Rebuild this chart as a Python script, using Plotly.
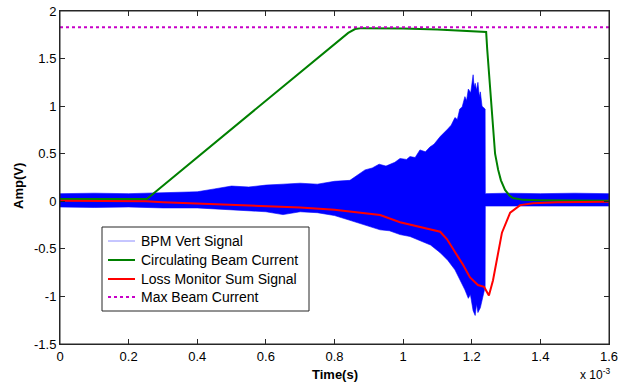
import plotly.graph_objects as go

# ---- data (time in ms; axis exponent shown as "x 10^-3") ----
bpm_t_upper = [0.0, 0.1, 0.2, 0.3, 0.4, 0.45, 0.5, 0.55, 0.6, 0.65, 0.7, 0.75, 0.8, 0.845,
               0.87, 0.889, 0.91, 0.93, 0.95, 0.976, 0.991, 1.01, 1.02, 1.035, 1.049, 1.065,
               1.078, 1.09, 1.108, 1.12, 1.13, 1.14, 1.151, 1.158, 1.165, 1.172, 1.18, 1.185,
               1.19, 1.197, 1.2, 1.204, 1.207, 1.21, 1.214, 1.218, 1.222, 1.225, 1.23, 1.233,
               1.239, 1.2395, 1.3, 1.4, 1.5, 1.6]
bpm_upper = [0.08, 0.085, 0.08, 0.09, 0.10, 0.13, 0.16, 0.15, 0.17, 0.18, 0.19, 0.18, 0.21, 0.22,
             0.28, 0.33, 0.35, 0.39, 0.37, 0.41, 0.45, 0.44, 0.47, 0.46, 0.54, 0.52,
             0.57, 0.60, 0.68, 0.72, 0.76, 0.80, 0.88, 0.86, 0.97, 0.99, 1.10, 1.06,
             1.18, 1.14, 1.22, 1.33, 1.20, 1.24, 1.17, 1.25, 1.10, 1.15, 1.00, 0.99,
             0.97, 0.08, 0.085, 0.08, 0.085, 0.08]
bpm_t_lower = [0.0, 0.1, 0.2, 0.3, 0.4, 0.5, 0.6, 0.65, 0.7, 0.75, 0.8, 0.845, 0.9, 0.933,
               0.96, 0.991, 1.02, 1.049, 1.08, 1.108, 1.13, 1.151, 1.165, 1.18, 1.19, 1.196,
               1.204, 1.21, 1.214, 1.218, 1.225, 1.233, 1.239, 1.2395, 1.3, 1.4, 1.5, 1.6]
bpm_lower = [-0.06, -0.065, -0.06, -0.07, -0.07, -0.09, -0.11, -0.14, -0.11, -0.12, -0.15, -0.20,
             -0.26, -0.30, -0.31, -0.35, -0.37, -0.41, -0.46, -0.54, -0.62, -0.72, -0.82, -0.93,
             -1.02, -0.98, -1.15, -1.20, -1.08, -1.17, -1.12, -1.0, -0.9, -0.05, -0.05, -0.05,
             -0.05, -0.05]

beam_t = [0.0, 0.253, 0.84, 0.86, 0.88, 0.95, 1.0, 1.1, 1.2, 1.242, 1.245, 1.25, 1.255, 1.262,
          1.268, 1.277, 1.285, 1.297, 1.31, 1.32, 1.35, 1.4, 1.6]
beam_v = [0.025, 0.025, 1.77, 1.81, 1.82, 1.82, 1.815, 1.805, 1.79, 1.78, 1.6, 1.35, 1.1, 0.75,
          0.5, 0.33, 0.22, 0.12, 0.06, 0.035, 0.015, 0.01, 0.005]

loss_t = [0.0, 0.25, 0.3, 0.4, 0.5, 0.6, 0.7, 0.8, 0.85, 0.933, 0.991, 1.049, 1.108, 1.128,
          1.151, 1.175, 1.195, 1.218, 1.236, 1.247, 1.25, 1.262, 1.274, 1.288, 1.312, 1.341,
          1.379, 1.45, 1.6]
loss_v = [0.005, 0.0, -0.01, -0.025, -0.04, -0.05, -0.065, -0.09, -0.11, -0.145, -0.22, -0.27,
          -0.32, -0.40, -0.53, -0.67, -0.80, -0.88, -0.90, -0.97, -0.99, -0.83, -0.58, -0.33,
          -0.12, -0.04, -0.02, -0.01, -0.005]

max_beam_current = 1.83
x_range = [0.0, 1.6]

legend_names = ["BPM Vert Signal", "Circulating Beam Current",
                "Loss Monitor Sum Signal", "Max Beam Current"]

xtick_vals = [0, 0.2, 0.4, 0.6, 0.8, 1.0, 1.2, 1.4, 1.6]
xtick_text = ["0", "0.2", "0.4", "0.6", "0.8", "1", "1.2", "1.4", "1.6"]
ytick_vals = [-1.5, -1, -0.5, 0, 0.5, 1, 1.5, 2]
ytick_text = ["-1.5", "-1", "-0.5", "0", "0.5", "1", "1.5", "2"]

FONT = "Liberation Sans, Arial, Helvetica, sans-serif"
W, H = 629, 382
ML, MR, MT, MB = 60, 20, 11, 38
PW, PH = W - ML - MR, H - MT - MB


def px_x(sx):
    return (sx - ML) / PW


def px_y(sy):
    return (MT + PH - sy) / PH


styles = [dict(color="rgb(140,140,255)", width=1),
          dict(color="rgb(0,128,0)", width=2),
          dict(color="rgb(255,0,0)", width=2),
          dict(color="rgb(200,0,200)", width=2, dash="dot")]

fig = go.Figure()

# BPM signal drawn as its envelope band
fig.add_trace(go.Scatter(
    x=bpm_t_upper + bpm_t_lower[::-1],
    y=bpm_upper + bpm_lower[::-1],
    fill="toself", fillcolor="rgb(0,0,255)",
    line=dict(color="rgb(0,0,255)", width=0.6),
    mode="lines", name=legend_names[0], showlegend=False, hoverinfo="skip"))
fig.add_trace(go.Scatter(x=beam_t, y=beam_v, mode="lines", name=legend_names[1],
                         line=styles[1], showlegend=False))
fig.add_trace(go.Scatter(x=loss_t, y=loss_v, mode="lines", name=legend_names[2],
                         line=styles[2], showlegend=False))
fig.add_trace(go.Scatter(x=x_range, y=[max_beam_current, max_beam_current], mode="lines",
                         name=legend_names[3], line=styles[3], showlegend=False))

axis_common = dict(showgrid=False, zeroline=False, showline=True, linecolor="#262626",
                   linewidth=1, mirror="ticks", ticks="inside", ticklen=5, automargin=False,
                   ticklabeloverflow="allow",
                   tickcolor="#262626", tickfont=dict(family=FONT, size=13, color="black"))

fig.update_xaxes(range=x_range, tickvals=xtick_vals, ticktext=xtick_text, **axis_common)
fig.update_yaxes(range=[-1.5, 2], tickvals=ytick_vals, ticktext=ytick_text, **axis_common)

# plot frame
fig.add_shape(type="rect", xref="paper", yref="paper", x0=0, x1=1, y0=0, y1=1,
              line=dict(color="#262626", width=1), layer="above")

# axis titles and exponent label
fig.add_annotation(text="<b>Time(s)</b>", xref="paper", yref="paper", x=0.5,
                   y=px_y(374), xanchor="center", yanchor="middle",
                   showarrow=False, font=dict(family=FONT, size=13, color="black"))
fig.add_annotation(text="<b>Amp(V)</b>", xref="paper", yref="paper", x=px_x(18),
                   y=px_y(186), xanchor="center", yanchor="middle", textangle=-90,
                   showarrow=False, font=dict(family=FONT, size=13, color="black"))
fig.add_annotation(text="x 10<sup>-3</sup>", xref="paper", yref="paper",
                   x=px_x(612), y=px_y(364), xanchor="right", yanchor="top", showarrow=False,
                   font=dict(family=FONT, size=12, color="black"))

# legend box (MATLAB style)
fig.add_shape(type="rect", xref="paper", yref="paper",
              x0=px_x(102), x1=px_x(309), y0=px_y(311), y1=px_y(227),
              line=dict(color="#262626", width=1), fillcolor="white", layer="above")
legend_rows = [241, 260, 279, 297]
for name, style, row in zip(legend_names, styles, legend_rows):
    fig.add_shape(type="line", xref="paper", yref="paper",
                  x0=px_x(108), x1=px_x(135), y0=px_y(row), y1=px_y(row),
                  line=style, layer="above")
    fig.add_annotation(text=name, xref="paper", yref="paper", x=px_x(139), y=px_y(row),
                       xanchor="left", yanchor="middle", showarrow=False,
                       font=dict(family=FONT, size=14, color="black"))

fig.update_layout(
    width=W, height=H,
    margin=dict(l=ML, r=MR, t=MT, b=MB, autoexpand=False),
    paper_bgcolor="white", plot_bgcolor="white",
    font=dict(family=FONT, size=13, color="black"),
    showlegend=False,
)

fig.write_html("out.html", config={"displayModeBar": False},
               post_script="document.body.style.margin='0px';")
